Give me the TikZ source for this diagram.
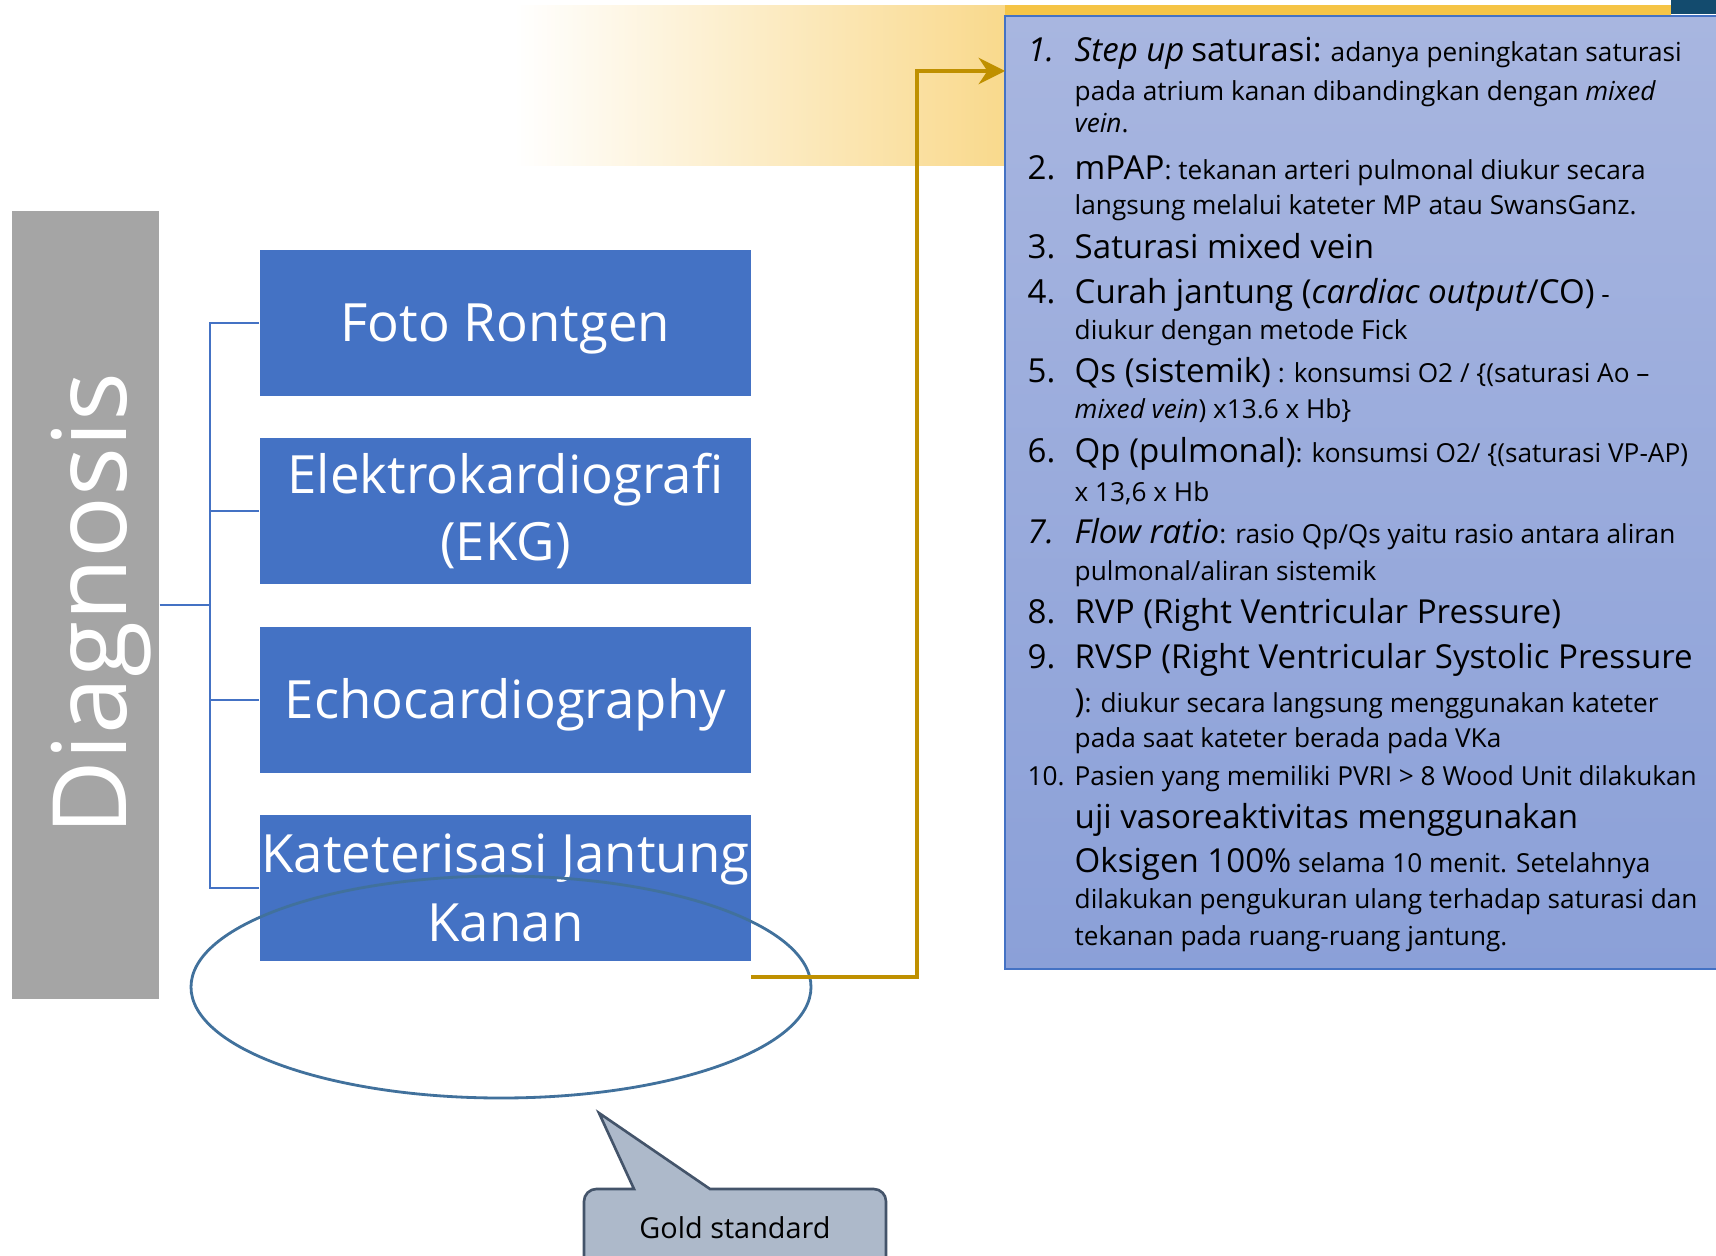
\documentclass[tikz,border=0pt]{standalone}
\usepackage{fontspec}
\setmainfont{Open Sans}
\usetikzlibrary{arrows.meta}

\definecolor{boxblue}{HTML}{4472C4}
\definecolor{sidegray}{HTML}{A5A5A5}
\definecolor{goldline}{HTML}{BF9000}
\definecolor{bandgold}{HTML}{F9D98C}
\definecolor{bandtop}{HTML}{F5C445}
\definecolor{paneltop}{HTML}{A8B6E0}
\definecolor{panelbot}{HTML}{8BA0D8}
\definecolor{ringblue}{HTML}{41719C}
\definecolor{calloutfill}{HTML}{ADB9CA}
\definecolor{calloutline}{HTML}{44546A}
\definecolor{cornerteal}{HTML}{134B6E}

\newcommand{\headfont}{\fontsize{9.4pt}{11pt}\selectfont}
\newcommand{\bodyfont}{\fontsize{7.45pt}{9pt}\selectfont}

\tikzset{
  mbox/.style={fill=boxblue, text=white, minimum width=4.91cm, minimum height=1.46cm,
    inner sep=0pt, align=center, font=\fontsize{15pt}{18.8pt}\selectfont},
  onerow/.style={text height=14.4pt, text depth=3.6pt},
  bracket/.style={draw=boxblue, line width=0.75pt},
  ln/.style={anchor=base west, inner sep=0pt, font=\bodyfont},
  num/.style={anchor=base west, inner sep=0pt, font=\headfont},
}

\begin{document}
\begin{tikzpicture}[x=0.01cm, y=-0.01cm]
    \useasboundingbox (0,0) rectangle (1716,1255);
    \fill[white] (0,0) rectangle (1716,1255);

    % golden band at the top
    \shade[left color=white, right color=bandgold] (514,6) rectangle (1006,166);
    \shade[top color=bandtop, bottom color=bandgold] (1005,6) rectangle (1671,166);
    \fill[cornerteal] (1671,0) rectangle (1716,14);

    % list panel
    \node[draw=boxblue, line width=0.5pt, top color=paneltop, bottom color=panelbot,
          minimum width=7.2cm, minimum height=9.53cm, inner sep=0] (panel) at (1365,492.5) {};

    % left side
    \node[fill=sidegray, minimum width=1.47cm, minimum height=7.88cm, inner sep=0] (diag) at (85.5,605) {};
    \node[rotate=90, anchor=base, text=white, inner sep=0,
          font=\fontsize{29.2pt}{31pt}\selectfont] (diagtxt) at (126,604) {Diagnosis};

    \node[mbox, onerow] (foto) at (505.5,323) {Foto Rontgen};
    \node[mbox] (ekg) at (505.5,511) {Elektrokardiografi\\(EKG)};
    \node[mbox, onerow] (echo) at (505.5,700) {Echocardiography};
    \node[mbox, font=\fontsize{15pt}{19.6pt}\selectfont] (kat) at (505.5,888) {Kateterisasi Jantung\\Kanan};

    \coordinate (fork) at (210,605);
    \draw[bracket] (diag.east) -- (fork);
    \foreach \b in {foto, ekg, echo, kat}
        \draw[bracket] (\b.west) -| (fork);

    \draw[ringblue, line width=0.8pt] (501,987) ellipse [x radius=310, y radius=111];

    % connector to the list
    \coordinate (kstart) at (751,977);
    \coordinate (goldend) at (1005,71);
    \draw[goldline, line width=1.1pt, -{Stealth[length=7.5pt, width=7.5pt, inset=2.5pt]}]
        (kstart) -- (917,977) |- (goldend);

    % callout
    \draw[fill=calloutfill, draw=calloutline, line width=0.75pt]
        (634,1189) -- (599,1113) -- (710,1189) [rounded corners=3.5pt] -- (886,1189)
        -- (886,1275) -- (584,1275) -- (584,1189) [sharp corners] -- cycle;
    \node[anchor=base, inner sep=0, font=\fontsize{8.2pt}{10pt}\selectfont] (gold) at (735,1238) {Gold standard};

    % numbers
    \node[num] (n1) at (1027,62) {\itshape 1.};
    \node[num] (n2) at (1027,180) {2.};
    \node[num] (n3) at (1027,259) {3.};
    \node[num] (n4) at (1027,304) {4.};
    \node[num] (n5) at (1027,383) {5.};
    \node[num] (n6) at (1027,462) {6.};
    \node[num] (n7) at (1027,543) {\itshape 7.};
    \node[num] (n8) at (1027,623) {8.};
    \node[num] (n9) at (1027,668) {9.};
    \node[num, font=\bodyfont] (n10) at (1027,785) {10.};

    % list text
    \node[ln] (l1a) at (1074,62) {{\headfont\itshape Step up} {\headfont saturasi:} adanya peningkatan saturasi};
    \node[ln] (l1b) at (1074,101) {pada atrium kanan dibandingkan dengan \textit{mixed}};
    \node[ln] (l1c) at (1074,133) {\textit{vein}.};
    \node[ln] (l2a) at (1074,180) {{\headfont mPAP}: tekanan arteri pulmonal diukur secara};
    \node[ln] (l2b) at (1074,215) {langsung melalui kateter MP atau SwansGanz.};
    \node[ln] (l3) at (1074,259) {\headfont Saturasi mixed vein};
    \node[ln] (l4a) at (1074,304) {{\headfont Curah jantung (\textit{cardiac output}/CO)} -};
    \node[ln] (l4b) at (1074,340) {diukur dengan metode Fick};
    \node[ln] (l5a) at (1074,383) {{\headfont Qs (sistemik)} : konsumsi O2 / \{(saturasi Ao –};
    \node[ln] (l5b) at (1074,419) {\textit{mixed vein}) x13.6 x Hb\}};
    \node[ln] (l6a) at (1074,462) {{\headfont Qp (pulmonal)}: konsumsi O2/ \{(saturasi VP-AP)};
    \node[ln] (l6b) at (1074,501) {x 13,6 x Hb};
    \node[ln] (l7a) at (1074,543) {{\headfont\itshape Flow ratio}: rasio Qp/Qs yaitu rasio antara aliran};
    \node[ln] (l7b) at (1074,580) {pulmonal/aliran sistemik};
    \node[ln] (l8) at (1074,623) {\headfont RVP (Right Ventricular Pressure)};
    \node[ln] (l9a) at (1074,668) {\headfont RVSP (Right Ventricular Systolic Pressure};
    \node[ln] (l9b) at (1074,712) {{\headfont )}: diukur secara langsung menggunakan kateter};
    \node[ln] (l9c) at (1074,747) {pada saat kateter berada pada VKa};
    \node[ln] (l10a) at (1074,785) {Pasien yang memiliki PVRI > 8 Wood Unit dilakukan};
    \node[ln] (l10b) at (1074,828) {\headfont uji vasoreaktivitas menggunakan};
    \node[ln] (l10c) at (1074,872) {{\headfont Oksigen 100\%} selama 10 menit. Setelahnya};
    \node[ln] (l10d) at (1074,908) {dilakukan pengukuran ulang terhadap saturasi dan};
    \node[ln] (l10e) at (1074,945) {tekanan pada ruang-ruang jantung.};
\end{tikzpicture}
\end{document}
